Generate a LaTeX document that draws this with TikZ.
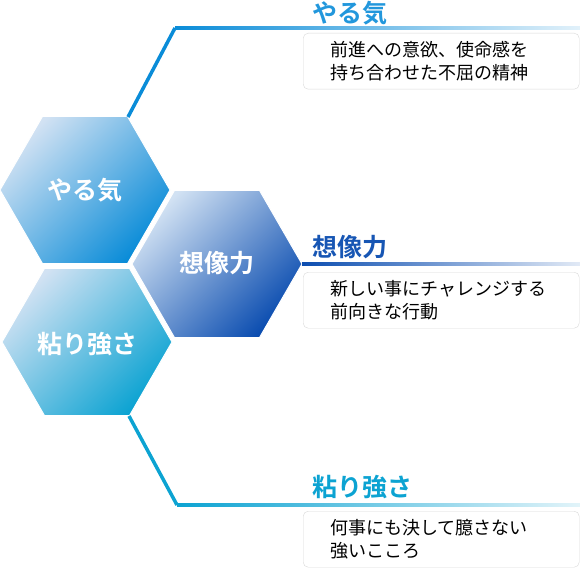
\documentclass[tikz,border=0pt]{standalone}
\usepackage{fontspec}
\setmainfont{Noto Sans CJK JP}[BoldFont={Noto Sans CJK JP Bold}]
\definecolor{yaruBlue}{HTML}{0A8CD8}
\definecolor{souBlue}{HTML}{0B4DB0}
\definecolor{nebaBlue}{HTML}{0CA3D2}
\definecolor{hexLight}{HTML}{D2E2F3}
\tikzset{
  hexfill/.style={shading=axis, top color=hexLight, bottom color=#1,
    shading angle=45, draw=white, line width=1pt},
  hexlabel/.style={text=white, font=\fontsize{25}{28}\selectfont},
  headline/.style={anchor=west, font=\bfseries\fontsize{25}{28}\selectfont, text=#1},
  descbox/.style={draw=gray!30, rounded corners=5pt, fill=white,
    anchor=north west, minimum width=276pt, minimum height=56pt,
    text width=222pt, inner xsep=27pt, inner ysep=0pt, align=left,
    font=\fontsize{18}{23}\selectfont},
  leg/.style={line width=3.5pt, #1}
}
\begin{document}
\begin{tikzpicture}[x=1pt, y=-1pt]
  \useasboundingbox (0,0) rectangle (580,567);

  % hexagon centres
  \coordinate (hA) at (85,190);
  \coordinate (hB) at (217,264);
  \coordinate (hC) at (87,342);

  % the three hexagons
  \shade[hexfill=yaruBlue] (hA) ++(0:85) -- ++(120:85) -- ++(180:85)
    -- ++(240:85) -- ++(300:85) -- ++(0:85) -- cycle;
  \shade[hexfill=nebaBlue] (hC) ++(0:85) -- ++(120:85) -- ++(180:85)
    -- ++(240:85) -- ++(300:85) -- ++(0:85) -- cycle;
  \shade[hexfill=souBlue] (hB) ++(0:85) -- ++(120:85) -- ++(180:85)
    -- ++(240:85) -- ++(300:85) -- ++(0:85) -- cycle;

  % labels inside the hexagons
  \node[hexlabel, font=\bfseries\fontsize{25}{28}\selectfont] (yaruHex) at (hA) {やる気};
  \node[hexlabel, font=\bfseries\fontsize{25}{28}\selectfont] (souHex) at (217,263) {想像力};
  \node[hexlabel, font=\bfseries\fontsize{25}{28}\selectfont] (nebaHex) at (87,344) {粘り強さ};

  % corners the lines start from
  \coordinate (yaruStart) at (128,117);
  \coordinate (yaruKnee) at (175,28);
  \coordinate (souStart) at (302,264);
  \coordinate (nebaStart) at (129,416);
  \coordinate (nebaKnee) at (177,505);

  % leader lines
  \draw[leg=yaruBlue] (yaruStart) -- (yaruKnee);
  \shade[left color=yaruBlue, middle color=yaruBlue, right color=yaruBlue!12]
    (yaruKnee) ++(0,-1.75) rectangle (580,29.75);
  \shade[left color=souBlue, middle color=souBlue, right color=souBlue!12]
    (souStart) ++(0,-1.75) rectangle (580,265.75);
  \draw[leg=nebaBlue] (nebaStart) -- (nebaKnee);
  \shade[left color=nebaBlue, middle color=nebaBlue, right color=nebaBlue!12]
    (nebaKnee) ++(0,-1.75) rectangle (580,506.75);

  % headings
  \node[headline=yaruBlue!90] (yaruHead) at (309,13) {やる気};
  \node[headline=souBlue!95] (souHead) at (309,247) {想像力};
  \node[headline=nebaBlue] (nebaHead) at (309,487) {粘り強さ};

  % description boxes
  \node[descbox] (yaruText) at (303,33) {前進への意欲、使命感を\\持ち合わせた不屈の精神};
  \node[descbox] (souText) at (303,272) {新しい事にチャレンジする\\前向きな行動};
  \node[descbox] (nebaText) at (303,511) {何事にも決して臆さない\\強いこころ};
\end{tikzpicture}
\end{document}
